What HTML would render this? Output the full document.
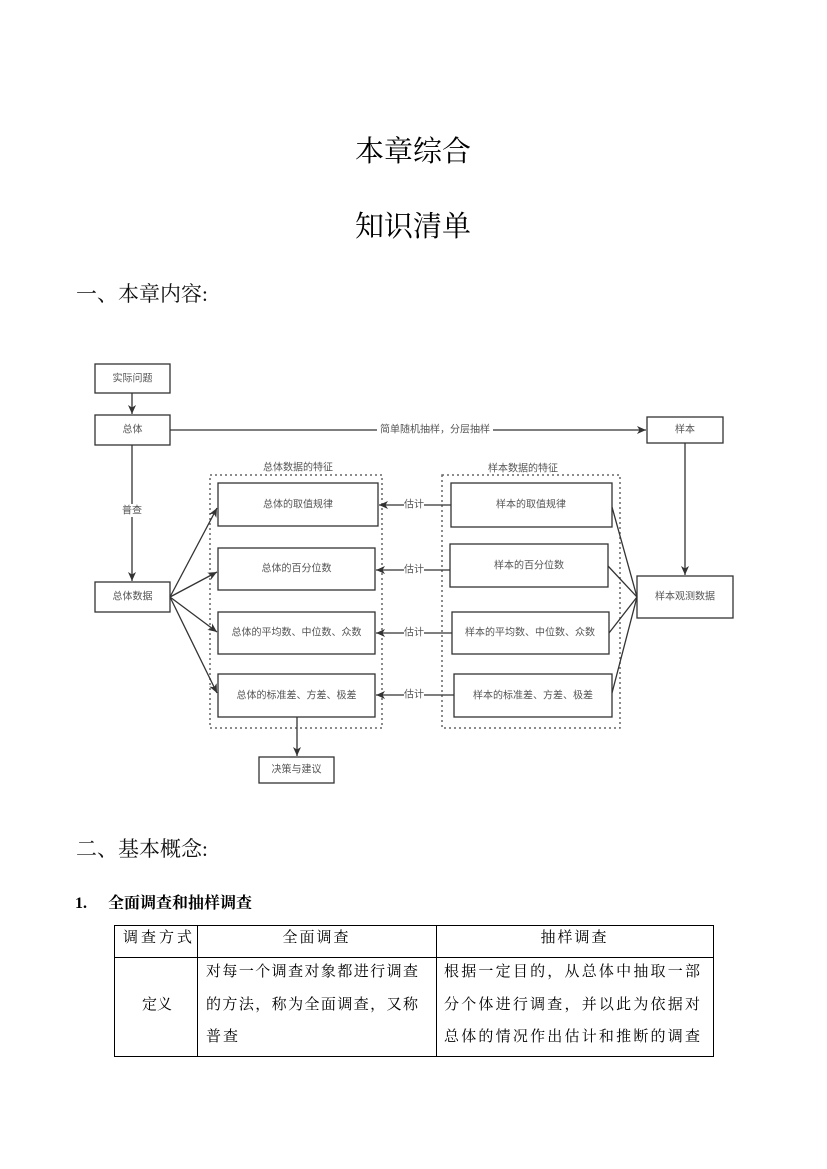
<!DOCTYPE html>
<html>
<head>
<meta charset="utf-8">
<style>
  html,body{margin:0;padding:0;background:#fff;}
  body{width:827px;height:1169px;position:relative;overflow:hidden;}
  .t{position:absolute;white-space:nowrap;color:#000;line-height:1;}
  .serif{font-family:"Liberation Serif","Noto Serif CJK SC",serif;}
  .title{font-size:29px;left:0;width:826px;text-align:center;}
  .h{font-size:21px;left:76px;color:#111;}
  .b{font-size:16px;font-weight:bold;}
  .cell{font-size:15px;}
  .j{text-align:justify;text-align-last:justify;}
  .ln{position:absolute;background:#000;}
</style>
</head>
<body>
<div class="t serif title" style="top:138px;">本章综合</div>
<div class="t serif title" style="top:213px;">知识清单</div>
<div class="t serif h" style="top:284px;">一、本章内容:</div>

<svg width="827" height="1169" style="position:absolute;left:0;top:0;" xmlns="http://www.w3.org/2000/svg">
  <defs>
    <marker id="a" markerWidth="10" markerHeight="8" refX="9" refY="4" orient="auto" markerUnits="userSpaceOnUse">
      <path d="M0,0 L9,4 L0,8 L2.5,4 z" fill="#333"/>
    </marker>
  </defs>
  <g fill="none" stroke="#666" stroke-width="1.5" stroke-dasharray="2,3">
    <rect x="210" y="475" width="172" height="253"/>
    <rect x="442" y="475" width="178" height="253"/>
  </g>
  <g fill="#fff" stroke="#333" stroke-width="1.3">
    <rect x="95" y="364" width="75" height="29"/>
    <rect x="95" y="415" width="75" height="30"/>
    <rect x="95" y="582" width="75" height="30"/>
    <rect x="647" y="417" width="76" height="26"/>
    <rect x="637" y="576" width="96" height="42"/>
    <rect x="218" y="483" width="160" height="43"/>
    <rect x="218" y="548" width="157" height="42"/>
    <rect x="218" y="612" width="157" height="42"/>
    <rect x="218" y="674" width="157" height="43"/>
    <rect x="451" y="483" width="161" height="44"/>
    <rect x="450" y="544" width="158" height="43"/>
    <rect x="452" y="612" width="157" height="42"/>
    <rect x="454" y="674" width="158" height="43"/>
    <rect x="259" y="757" width="75" height="26"/>
  </g>
  <g stroke="#333" stroke-width="1.3" fill="none">
    <line x1="132" y1="393" x2="132" y2="414" marker-end="url(#a)"/>
    <line x1="170" y1="430" x2="646" y2="430" marker-end="url(#a)"/>
    <line x1="132" y1="445" x2="132" y2="581" marker-end="url(#a)"/>
    <line x1="685" y1="443" x2="685" y2="575" marker-end="url(#a)"/>
    <line x1="170" y1="597" x2="217" y2="508" marker-end="url(#a)"/>
    <line x1="170" y1="597" x2="217" y2="572" marker-end="url(#a)"/>
    <line x1="170" y1="597" x2="217" y2="632" marker-end="url(#a)"/>
    <line x1="170" y1="597" x2="217" y2="693" marker-end="url(#a)"/>
    <line x1="451" y1="505" x2="379" y2="505" marker-end="url(#a)"/>
    <line x1="450" y1="570" x2="376" y2="570" marker-end="url(#a)"/>
    <line x1="452" y1="633" x2="376" y2="633" marker-end="url(#a)"/>
    <line x1="454" y1="695" x2="376" y2="695" marker-end="url(#a)"/>
    <line x1="612" y1="507" x2="637" y2="597"/>
    <line x1="608" y1="566" x2="637" y2="597"/>
    <line x1="609" y1="633" x2="637" y2="597"/>
    <line x1="612" y1="693" x2="637" y2="597"/>
    <line x1="297" y1="717" x2="297" y2="756" marker-end="url(#a)"/>
  </g>
  <g fill="#fff">
    <rect x="377" y="424" width="116" height="12"/>
    <rect x="120" y="504" width="24" height="13"/>
    <rect x="404" y="499" width="20" height="12"/>
    <rect x="404" y="564" width="20" height="12"/>
    <rect x="404" y="627" width="20" height="12"/>
    <rect x="404" y="689" width="20" height="12"/>
  </g>
  <g font-family="'Liberation Sans','Noto Sans CJK SC',sans-serif" font-size="10" fill="#555" text-anchor="middle" dominant-baseline="central">
    <text x="132.5" y="379">实际问题</text>
    <text x="132.5" y="430">总体</text>
    <text x="132.5" y="597">总体数据</text>
    <text x="685" y="430">样本</text>
    <text x="685" y="597">样本观测数据</text>
    <text x="298" y="505">总体的取值规律</text>
    <text x="296.5" y="569">总体的百分位数</text>
    <text x="296.5" y="633">总体的平均数、中位数、众数</text>
    <text x="296.5" y="696">总体的标准差、方差、极差</text>
    <text x="531" y="505">样本的取值规律</text>
    <text x="529" y="566">样本的百分位数</text>
    <text x="530" y="633">样本的平均数、中位数、众数</text>
    <text x="533" y="696">样本的标准差、方差、极差</text>
    <text x="296.5" y="770">决策与建议</text>
    <text x="435" y="430">简单随机抽样，分层抽样</text>
    <text x="132" y="511">普查</text>
    <text x="414" y="505">估计</text>
    <text x="414" y="570">估计</text>
    <text x="414" y="633">估计</text>
    <text x="414" y="695">估计</text>
    <text x="298" y="468">总体数据的特征</text>
    <text x="523" y="469">样本数据的特征</text>
  </g>
</svg>

<div class="t serif h" style="top:839px;">二、基本概念:</div>
<div class="t serif b" style="top:896px;left:75px;">1.</div>
<div class="t serif b" style="top:896px;left:108px;">全面调查和抽样调查</div>

<!-- table lines -->
<div class="ln" style="left:114px;top:925px;width:600px;height:1px;"></div>
<div class="ln" style="left:114px;top:957px;width:600px;height:1px;"></div>
<div class="ln" style="left:114px;top:1056px;width:600px;height:1px;"></div>
<div class="ln" style="left:114px;top:925px;width:1px;height:132px;"></div>
<div class="ln" style="left:197px;top:925px;width:1px;height:132px;"></div>
<div class="ln" style="left:436px;top:925px;width:1px;height:132px;"></div>
<div class="ln" style="left:713px;top:925px;width:1px;height:132px;"></div>

<div class="t serif cell j" style="top:931px;left:123px;width:69px;">调查方式</div>
<div class="t serif cell" style="top:931px;left:197px;width:239px;text-align:center;letter-spacing:2px;">全面调查</div>
<div class="t serif cell" style="top:931px;left:436px;width:277px;text-align:center;letter-spacing:2px;">抽样调查</div>

<div class="t serif cell j" style="top:998px;left:142px;width:28px;">定义</div>

<div class="t serif cell j" style="top:965px;left:206px;width:212px;">对每一个调查对象都进行调查</div>
<div class="t serif cell j" style="top:998px;left:206px;width:212px;">的方法，称为全面调查，又称</div>
<div class="t serif cell" style="top:1030px;left:206px;letter-spacing:2px;">普查</div>

<div class="t serif cell j" style="top:965px;left:444px;width:256px;">根据一定目的，从总体中抽取一部</div>
<div class="t serif cell j" style="top:998px;left:444px;width:256px;">分个体进行调查，并以此为依据对</div>
<div class="t serif cell j" style="top:1030px;left:444px;width:256px;">总体的情况作出估计和推断的调查</div>
</body>
</html>
